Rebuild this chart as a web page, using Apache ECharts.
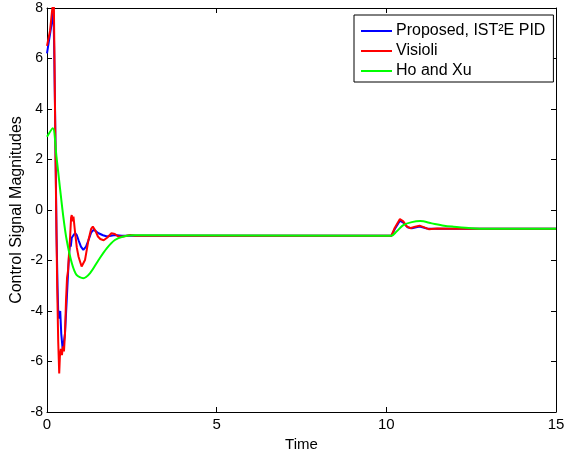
<!DOCTYPE html>
<html>
<head>
<meta charset="utf-8">
<script src="https://cdn.jsdelivr.net/npm/echarts@6/dist/echarts.min.js"></script>
<style>
html, body { margin: 0; padding: 0; background: #fff; }
#chart { width: 565px; height: 450px; }
</style>
</head>
<body>
<div id="chart"></div>
<script>
// series names
var seriesNames = ['Proposed, IST\u00b2E PID', 'Visioli', 'Ho and Xu'];

// blue: proposed
var blueT = [0, 0.14, 0.19, 0.21, 0.24, 0.28, 0.31, 0.33, 0.36, 0.39, 0.42, 0.46, 0.50, 0.53, 0.58, 0.63, 0.66, 0.68, 0.70, 0.73, 0.78, 0.83, 0.88, 0.93, 1.0, 1.07, 1.15, 1.22, 1.30, 1.37, 1.45, 1.52, 1.65, 1.77, 2.0, 2.2, 10.15, 10.25, 10.4, 10.5, 10.62, 10.75, 10.98, 11.2, 11.5, 15];
var blueY = [6.2, 7.4, 7.9, 6.5, 3.7, -0.9, -3.0, -4.0, -4.3, -4.0, -4.9, -5.5, -5.2, -4.9, -3.6, -2.25, -1.6, -1.3, -1.45, -1.1, -1.0, -0.92, -1.0, -1.2, -1.45, -1.58, -1.45, -1.2, -0.9, -0.79, -0.85, -0.92, -1.0, -1.05, -0.99, -1.02, -1.02, -0.75, -0.42, -0.5, -0.68, -0.72, -0.65, -0.73, -0.74, -0.74];

// red: Visioli
var redT = [0, 0.09, 0.15, 0.2, 0.22, 0.24, 0.27, 0.30, 0.33, 0.36, 0.38, 0.41, 0.44, 0.47, 0.50, 0.53, 0.56, 0.59, 0.62, 0.65, 0.68, 0.71, 0.73, 0.75, 0.78, 0.83, 0.88, 0.93, 1.02, 1.12, 1.22, 1.30, 1.35, 1.42, 1.50, 1.57, 1.67, 1.77, 1.90, 2.0, 2.1, 2.25, 2.45, 2.6, 10.15, 10.25, 10.4, 10.5, 10.6, 10.7, 10.85, 10.98, 11.1, 11.25, 11.5, 11.9, 15];
var redY = [6.5, 7.1, 7.9, 8.4, 6.0, 3.5, 0.0, -3.0, -5.2, -6.47, -5.8, -5.5, -5.75, -5.4, -5.6, -4.9, -3.6, -2.7, -2.4, -1.7, -1.1, -0.3, -0.2, -0.45, -0.26, -0.92, -1.5, -1.85, -2.24, -1.98, -1.2, -0.75, -0.66, -0.8, -1.05, -1.15, -1.2, -1.1, -0.92, -0.95, -1.05, -1.05, -0.99, -1.02, -1.02, -0.7, -0.36, -0.45, -0.65, -0.72, -0.66, -0.62, -0.68, -0.76, -0.73, -0.74, -0.74];

// green: Ho and Xu
var greenT = [0, 0.17, 0.28, 0.38, 0.48, 0.58, 0.73, 0.87, 1.07, 1.27, 1.52, 1.76, 2.0, 2.25, 2.55, 10.15, 10.3, 10.51, 10.75, 11.0, 11.34, 11.7, 11.98, 12.5, 13, 15];
var greenY = [2.9, 3.24, 2.1, 0.9, -0.26, -1.19, -2.1, -2.57, -2.7, -2.5, -1.98, -1.52, -1.19, -1.05, -1.0, -1.02, -0.85, -0.59, -0.48, -0.44, -0.53, -0.62, -0.66, -0.72, -0.74, -0.74];

function pairs(t, y) {
    var d = [];
    for (var i = 0; i < t.length; i++) {
        d.push([t[i], y[i]]);
    }
    return d;
}

var chart = echarts.init(document.getElementById('chart'));
var font = 'Liberation Sans, Arial, sans-serif';
var axisLine = { show: true, onZero: false, lineStyle: { color: '#000', width: 1 } };
var tick = { show: true, inside: true, length: 5, lineStyle: { color: '#000' } };

var option = {
    animation: false,
    backgroundColor: '#fff',
    grid: { left: 47, right: 9, top: 8, bottom: 38, containLabel: false, outerBoundsMode: 'none' },
    legend: {
        data: seriesNames,
        orient: 'vertical',
        left: 354,
        top: 15,
        padding: [8, 8, 3, 7],
        icon: 'rect',
        itemWidth: 31,
        itemHeight: 2,
        itemGap: 4,
        backgroundColor: '#fff',
        borderColor: '#000',
        borderWidth: 1,
        borderRadius: 0,
        textStyle: { fontFamily: font, fontSize: 16, lineHeight: 16, color: '#000', padding: [0, 0, 0, -1] }
    },
    xAxis: [{
        type: 'value', min: 0, max: 15, interval: 5,
        name: 'Time', nameLocation: 'middle', nameGap: 24,
        nameTextStyle: { fontFamily: font, fontSize: 15, color: '#000' },
        axisLine: axisLine, axisTick: tick,
        axisLabel: { fontFamily: font, fontSize: 15, color: '#000', margin: 5 },
        splitLine: { show: false }
    }, {
        type: 'value', min: 0, max: 15, interval: 5, position: 'top',
        axisLine: axisLine, axisTick: tick, axisLabel: { show: false }, splitLine: { show: false }
    }],
    yAxis: [{
        type: 'value', min: -8, max: 8, interval: 2,
        name: 'Control Signal Magnitudes', nameLocation: 'middle', nameGap: 22,
        nameMoveOverlap: false,
        nameTextStyle: { fontFamily: font, fontSize: 16, color: '#000' },
        axisLine: axisLine, axisTick: tick,
        axisLabel: { fontFamily: font, fontSize: 14, color: '#000', margin: 4 },
        splitLine: { show: false }
    }, {
        type: 'value', min: -8, max: 8, interval: 2, position: 'right',
        axisLine: axisLine, axisTick: tick, axisLabel: { show: false }, splitLine: { show: false }
    }],
    series: [{
        name: seriesNames[0], type: 'line', symbol: 'none', color: '#0000ff',
        lineStyle: { width: 2 }, data: pairs(blueT, blueY)
    }, {
        name: seriesNames[1], type: 'line', symbol: 'none', color: '#ff0000',
        lineStyle: { width: 2 }, data: pairs(redT, redY)
    }, {
        name: seriesNames[2], type: 'line', symbol: 'none', color: '#00ff00', smooth: 0.3,
        lineStyle: { width: 2 }, data: pairs(greenT, greenY)
    }]
};
chart.setOption(option);
</script>
</body>
</html>
